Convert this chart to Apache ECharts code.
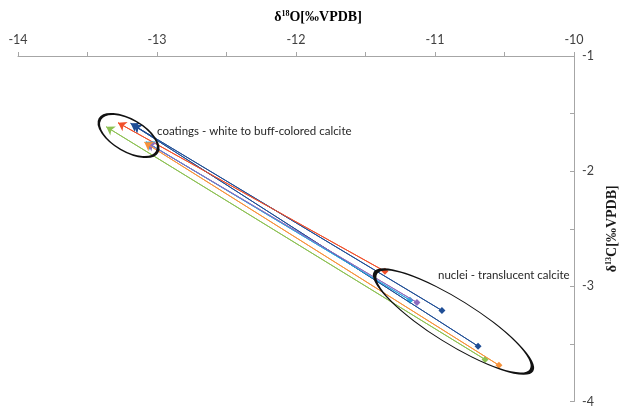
<!DOCTYPE html>
<html>
<head>
<meta charset="utf-8">
<script src="https://cdn.jsdelivr.net/npm/echarts@6/dist/echarts.min.js"></script>
<style>
  html, body { margin: 0; padding: 0; background: #fff; }
  #chart { width: 627px; height: 408px; }
</style>
</head>
<body>
<div id="chart"></div>
<script>
// Isotope pairs: each sample goes from its nucleus value to its coating value.
const sampleColors = ['#1f4e96', '#1f4e96', '#f2502a', '#2aa7df', '#8c6bbf', '#8dc153', '#f7923a'];
const nucleiO18 = [-10.95, -10.69, -11.36, -11.18, -11.13, -10.64, -10.54];
const nucleiC13 = [-3.21, -3.52, -2.87, -3.12, -3.14, -3.635, -3.685];
const coatingsO18 = [-13.19, -13.17, -13.28, -13.08, -13.07, -13.365, -13.09];
const coatingsC13 = [-1.585, -1.60, -1.58, -1.745, -1.755, -1.615, -1.75];

const xTicks = { min: -14, max: -10, step: 1 };
const yTicks = { min: -4, max: -1, step: 1 };

const labelCoatings = 'coatings - white to buff-colored calcite';
const labelNuclei = 'nuclei - translucent calcite';

const axisGray = '#a6a6a6';
const textGray = '#404040';
const tickFont = 'Lato, "Open Sans", sans-serif';
const serif = '"Liberation Serif", "Times New Roman", serif';

const series = sampleColors.map((color, i) => {
  const start = [nucleiO18[i], nucleiC13[i]];
  const end = [coatingsO18[i], coatingsC13[i]];
  return {
    type: 'line',
    data: [start, end],
    symbol: (val, params) => (params.dataIndex === 0 ? 'diamond' : 'none'),
    symbolSize: 7,
    showAllSymbol: true,
    lineStyle: { color, width: 1 },
    itemStyle: { color },
    silent: true,
    animation: false,
    markLine: {
      silent: true,
      animation: false,
      symbol: ['none', 'arrow'],
      symbolSize: 8,
      label: { show: false },
      itemStyle: { color },
      lineStyle: { color, width: 1, type: 'solid' },
      data: [[{ coord: start }, { coord: end }]]
    }
  };
});

const supRich = {
  b: { fontFamily: serif, fontWeight: 'bold', fontSize: 14, color: '#1a1a1a' },
  s: { fontFamily: serif, fontWeight: 'bold', fontSize: 8, color: '#1a1a1a', verticalAlign: 'top', lineHeight: 10 }
};

const chart = echarts.init(document.getElementById('chart'), null, { renderer: 'canvas' });
chart.setOption({
  animation: false,
  backgroundColor: '#ffffff',
  grid: { left: 18, right: 39, top: 56, bottom: 3, containLabel: false },
  xAxis: {
    type: 'value',
    position: 'top',
    min: xTicks.min,
    max: xTicks.max,
    interval: xTicks.step,
    axisLine: { show: true, onZero: false, lineStyle: { color: axisGray, width: 1 } },
    axisTick: { show: true, inside: false, length: 4, lineStyle: { color: axisGray } },
    minorTick: { show: true, splitNumber: 2, length: 4, lineStyle: { color: axisGray } },
    splitLine: { show: false },
    axisLabel: { color: textGray, fontSize: 12.5, fontFamily: tickFont, margin: 10 }
  },
  yAxis: {
    type: 'value',
    position: 'right',
    min: yTicks.min,
    max: yTicks.max,
    interval: yTicks.step,
    name: '{b|δ}{s|13}{b|C[‰VPDB]}',
    nameLocation: 'middle',
    nameRotate: 90,
    nameGap: 31,
    nameTextStyle: { rich: supRich },
    axisLine: { show: true, onZero: false, lineStyle: { color: axisGray, width: 1 } },
    axisTick: { show: true, inside: true, length: 4, lineStyle: { color: axisGray } },
    minorTick: { show: true, splitNumber: 2, length: 4, lineStyle: { color: axisGray } },
    splitLine: { show: false },
    axisLabel: { color: textGray, fontSize: 12.5, fontFamily: tickFont, margin: 8 }
  },
  graphic: [
    {
      type: 'text', x: 318, y: 17, silent: true,
      style: { text: '{b|δ}{s|18}{b|O[‰VPDB]}', rich: supRich, align: 'center', verticalAlign: 'middle' }
    },
    {
      type: 'circle', x: 128.5, y: 135.5, scaleX: 33, scaleY: 16,
      rotation: -30 * Math.PI / 180, silent: true, z: 10,
      shape: { cx: 0, cy: 0, r: 1 },
      style: { fill: 'none', stroke: '#111', lineWidth: 2, strokeNoScale: true }
    },
    {
      type: 'circle', x: 453.5, y: 321.5, scaleX: 92, scaleY: 22,
      rotation: -32 * Math.PI / 180, silent: true, z: 10,
      shape: { cx: 0, cy: 0, r: 1 },
      style: { fill: 'none', stroke: '#111', lineWidth: 2, strokeNoScale: true }
    },
    {
      type: 'text', x: 157, y: 131, silent: true, z: 10,
      style: { text: labelCoatings, fill: '#262626', font: '11.5px Lato, "Open Sans", sans-serif', verticalAlign: 'middle' }
    },
    {
      type: 'text', x: 438, y: 275, silent: true, z: 10,
      style: { text: labelNuclei, fill: '#262626', font: '11.5px Lato, "Open Sans", sans-serif', verticalAlign: 'middle' }
    }
  ],
  series
});
</script>
</body>
</html>
